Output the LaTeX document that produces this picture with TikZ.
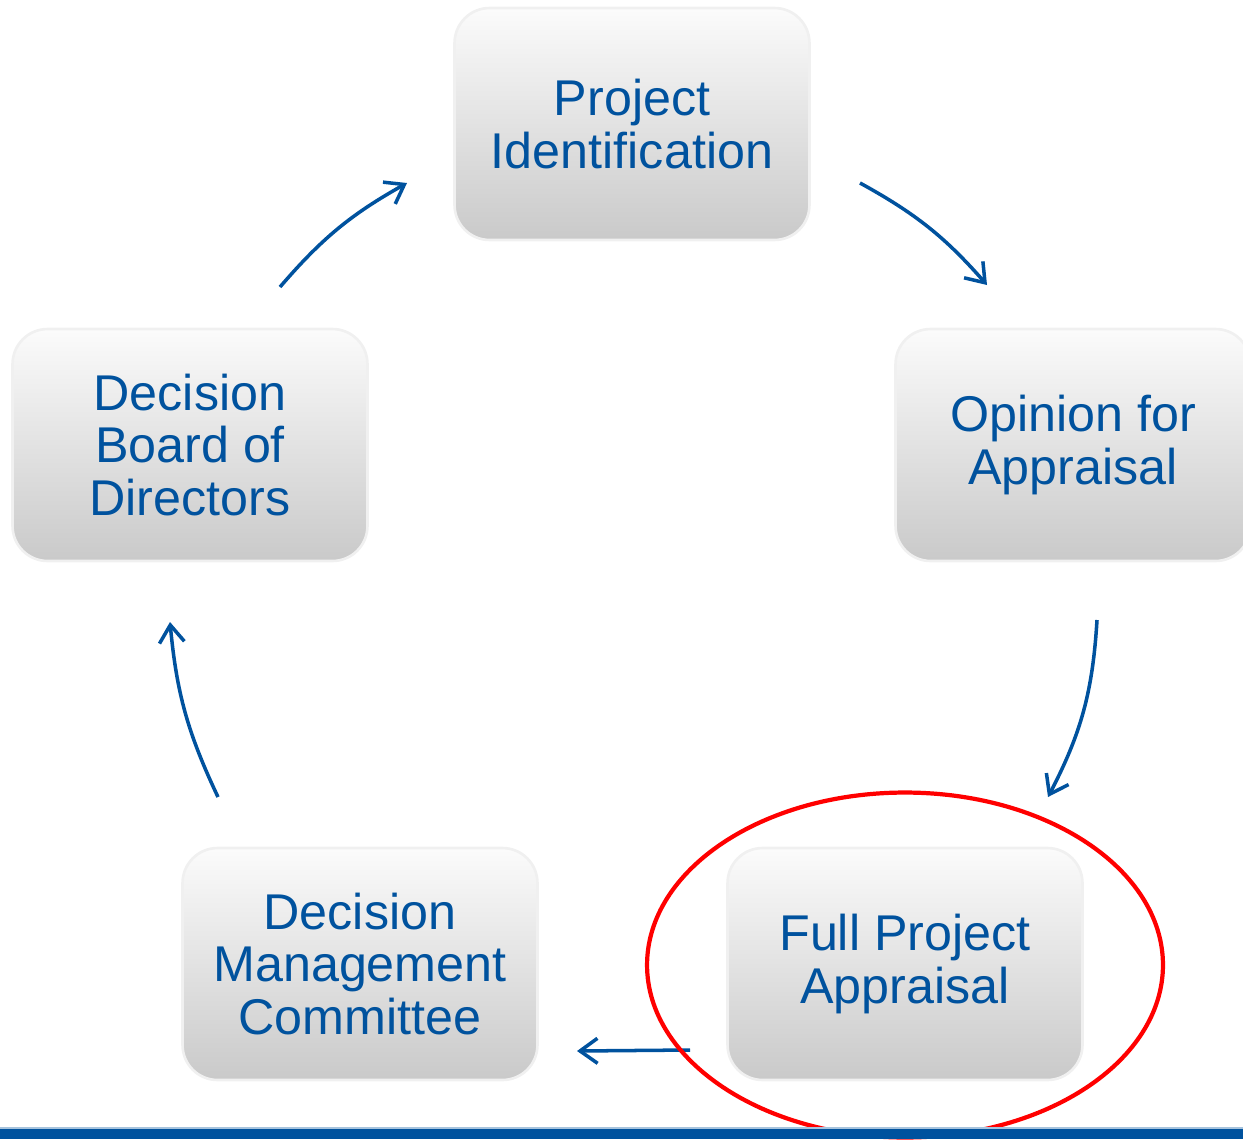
\documentclass[tikz,border=0pt]{standalone}
\usepackage{fontspec}
\setmainfont{Liberation Sans}
\usetikzlibrary{arrows.meta}

\definecolor{stageblue}{RGB}{0,82,158}

\begin{document}
\begin{tikzpicture}[
    x=0.02cm, y=-0.02cm,
    every node/.style={font=\fontsize{28.6}{29.8}\selectfont},
    stage/.style={rectangle, rounded corners=0.7cm, top color=gray!3, bottom color=gray!42,
                  draw=gray!12, line width=1.5pt, minimum width=7.1cm, minimum height=4.64cm,
                  text=stageblue, align=center, inner sep=2pt},
    cycle/.style={-{Straight Barb[length=3.5mm, width=5mm]}, line width=2pt, draw=stageblue},
    focus/.style={draw=red, line width=2.4pt},
]
\useasboundingbox (0,0) rectangle (1243,1139);

% The five stages, around the loop
\node[stage] (ident)   at (632,124)  {Project\\Identification};
\node[stage] (opinion) at (1073,445) {Opinion for\\Appraisal};
\node[stage] (full)    at (905,964)  {Full Project\\Appraisal};
\node[stage] (mgmt)    at (360,964)  {Decision\\Management\\Committee};
\node[stage] (board)   at (190,445)  {Decision\\Board of\\Directors};

% Arrow ends sit in the gaps between the boxes
\coordinate (ident-out)   at (860,183);
\coordinate (opinion-in)  at (987,285);
\coordinate (opinion-out) at (1097,620);
\coordinate (full-in)     at (1048,797);
\coordinate (full-out)    at (690,1050);
\coordinate (mgmt-in)     at (577,1051);
\coordinate (mgmt-out)    at (218,797);
\coordinate (board-in)    at (170,622);
\coordinate (board-out)   at (280,287);
\coordinate (ident-in)    at (407,183);

% Arrows
\draw[cycle] (ident-out) to[bend left=10] (opinion-in);
\draw[cycle] (opinion-out) to[bend left=12] (full-in);
\draw[cycle] (full-out) -- (mgmt-in);
\draw[cycle] (mgmt-out) to[bend left=10] (board-in);
\draw[cycle] (board-out) to[bend left=10] (ident-in);

% Highlight on the current stage
\draw[focus] (905,965) ellipse [x radius=5.16cm, y radius=3.45cm];

% Footer bar
\fill[stageblue] (0,1129) rectangle (1243,1139);
\draw[stageblue!35, line width=0.6pt] (0,1128) -- (1243,1128);

\end{tikzpicture}
\end{document}
